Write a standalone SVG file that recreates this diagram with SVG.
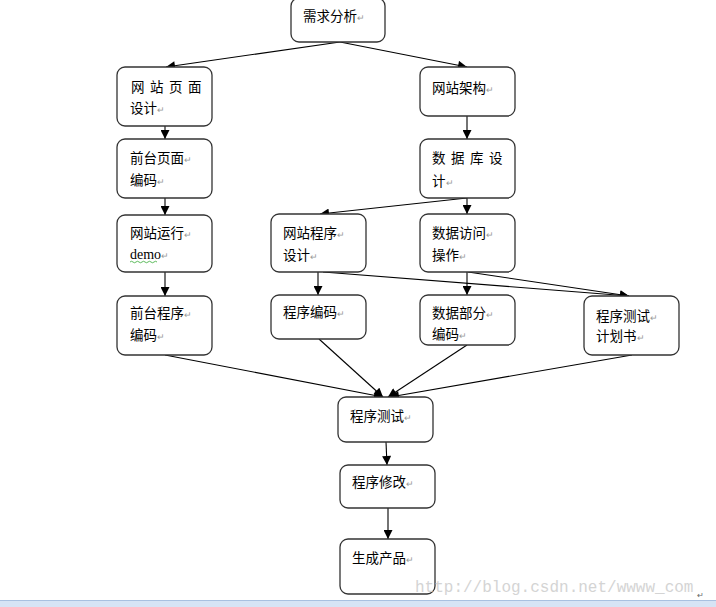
<svg xmlns="http://www.w3.org/2000/svg" width="716" height="607" viewBox="0 0 716 607">
<style>
.box{fill:#fff;stroke:#333;stroke-width:1.3}
.t{font-family:"Noto Sans CJK SC","Liberation Sans",sans-serif;font-size:13.5px;fill:#000}
.pm{fill:#999;font-size:9px}
.c{stroke:#000;stroke-width:1.1;fill:none;marker-end:url(#ah)}
.wm{font-family:"Liberation Mono",monospace;font-size:16px;fill:#d4d4d4}
</style>
<defs>
<marker id="ah" viewBox="0 0 10 10" refX="10" refY="5" markerWidth="10" markerHeight="9" markerUnits="userSpaceOnUse" orient="auto">
<path d="M0,0 L10,5 L0,10 z" fill="#000"/>
</marker>
</defs>
<rect width="716" height="607" fill="#fff"/>
<g id="connectors">
<line class="c" x1="340" y1="42" x2="166" y2="67"/>
<line class="c" x1="340" y1="42" x2="467" y2="67"/>
<line class="c" x1="165" y1="126" x2="165" y2="139"/>
<line class="c" x1="165" y1="198" x2="165" y2="215"/>
<line class="c" x1="165" y1="272" x2="165" y2="296"/>
<line class="c" x1="467" y1="116" x2="467" y2="139"/>
<line class="c" x1="467" y1="198" x2="320" y2="214"/>
<line class="c" x1="467" y1="198" x2="467" y2="214"/>
<line class="c" x1="318" y1="272" x2="318" y2="295"/>
<line class="c" x1="323" y1="272" x2="629" y2="296"/>
<line class="c" x1="467" y1="272" x2="467" y2="295"/>
<line class="c" x1="468" y1="272" x2="629" y2="296"/>
<line class="c" x1="165" y1="355" x2="383" y2="397"/>
<line class="c" x1="319" y1="339" x2="383" y2="397"/>
<line class="c" x1="467" y1="345" x2="388" y2="397"/>
<line class="c" x1="632" y1="355" x2="390" y2="397"/>
<line class="c" x1="386" y1="442" x2="387" y2="465"/>
<line class="c" x1="388" y1="508" x2="388" y2="539"/>
</g>
<g id="n1"><rect class="box" x="291" y="-2" width="94" height="44" rx="8"/><text class="t" x="303" y="21">需求分析<tspan class="pm">↵</tspan></text></g>
<g id="n2"><rect class="box" x="117" y="67" width="95" height="59" rx="8"/><text class="t" x="131" y="92" letter-spacing="5.5">网站页面</text><text class="t" x="130" y="113">设计<tspan class="pm">↵</tspan></text></g>
<g id="n3"><rect class="box" x="117" y="139" width="95" height="59" rx="8"/><text class="t" x="130" y="163">前台页面<tspan class="pm">↵</tspan></text><text class="t" x="130" y="185">编码<tspan class="pm">↵</tspan></text></g>
<g id="n4"><rect class="box" x="117" y="215" width="95" height="57" rx="8"/><text class="t" x="130" y="238">网站运行<tspan class="pm">↵</tspan></text><text class="t" x="130" y="259" style="font-family:'Liberation Serif',serif;font-size:14px">demo<tspan class="pm">↵</tspan></text><path d="M130,262 q1.5,-1.5 3,0 t3,0 t3,0 t3,0 t3,0 t3,0 t3,0 t3,0 t3,0" stroke="#3a3" stroke-width="0.8" fill="none"/></g>
<g id="n5"><rect class="box" x="117" y="296" width="95" height="59" rx="8"/><text class="t" x="130" y="318">前台程序<tspan class="pm">↵</tspan></text><text class="t" x="130" y="340">编码<tspan class="pm">↵</tspan></text></g>
<g id="n6"><rect class="box" x="420" y="67" width="95" height="49" rx="8"/><text class="t" x="432" y="93">网站架构<tspan class="pm">↵</tspan></text></g>
<g id="n7"><rect class="box" x="420" y="139" width="95" height="59" rx="8"/><text class="t" x="432" y="163" letter-spacing="5.5">数据库设</text><text class="t" x="432" y="186">计<tspan class="pm">↵</tspan></text></g>
<g id="n8"><rect class="box" x="271" y="214" width="95" height="58" rx="8"/><text class="t" x="283" y="238">网站程序<tspan class="pm">↵</tspan></text><text class="t" x="283" y="260">设计<tspan class="pm">↵</tspan></text></g>
<g id="n9"><rect class="box" x="420" y="214" width="95" height="58" rx="8"/><text class="t" x="432" y="238">数据访问<tspan class="pm">↵</tspan></text><text class="t" x="432" y="260">操作<tspan class="pm">↵</tspan></text></g>
<g id="n10"><rect class="box" x="271" y="295" width="95" height="44" rx="8"/><text class="t" x="283" y="317">程序编码<tspan class="pm">↵</tspan></text></g>
<g id="n11"><rect class="box" x="420" y="295" width="95" height="50" rx="8"/><text class="t" x="432" y="318">数据部分<tspan class="pm">↵</tspan></text><text class="t" x="432" y="339">编码<tspan class="pm">↵</tspan></text></g>
<g id="n12"><rect class="box" x="584" y="296" width="95" height="59" rx="8"/><text class="t" x="596" y="321">程序测试<tspan class="pm">↵</tspan></text><text class="t" x="596" y="341">计划书<tspan class="pm">↵</tspan></text></g>
<g id="n13"><rect class="box" x="338" y="397" width="95" height="45" rx="8"/><text class="t" x="350" y="421">程序测试<tspan class="pm">↵</tspan></text></g>
<g id="n14"><rect class="box" x="340" y="465" width="95" height="43" rx="8"/><text class="t" x="352" y="487">程序修改<tspan class="pm">↵</tspan></text></g>
<g id="n15"><rect class="box" x="340" y="539" width="95" height="55" rx="8"/><text class="t" x="352" y="563">生成产品<tspan class="pm">↵</tspan></text></g>
<text class="wm" x="415" y="592">http://blog.csdn.net/wwww_com</text>
<text x="697" y="598" font-family="Liberation Sans,sans-serif" font-size="8" fill="#666">↵</text>
<rect x="0" y="600" width="716" height="7" fill="#d6e4f5"/>
<line x1="0" y1="600.5" x2="716" y2="600.5" stroke="#a8c0e0" stroke-width="1"/>
</svg>
